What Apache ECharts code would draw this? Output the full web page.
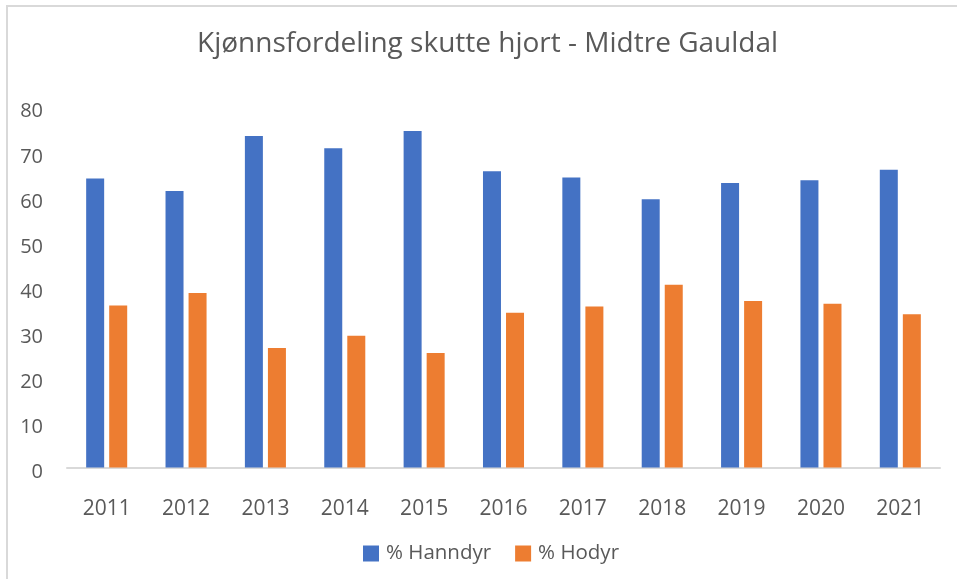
<!DOCTYPE html>
<html>
<head>
<meta charset="utf-8">
<script src="https://cdn.jsdelivr.net/npm/echarts@6/dist/echarts.min.js"></script>
<style>
  html, body { margin: 0; padding: 0; background: #fff; }
  #frame { position: absolute; left: 6px; top: 5px; width: 960px; height: 580px;
           border-top: 2px solid #d9d9d9; border-left: 2px solid #d9d9d9; }
  #chart { position: absolute; left: 0; top: 0; width: 957px; height: 579px; }
</style>
</head>
<body>
<div id="frame"></div>
<div id="chart"></div>
<script>
// data
var years = ['2011', '2012', '2013', '2014', '2015', '2016', '2017', '2018', '2019', '2020', '2021'];
var hanndyr = [64.1, 61.3, 73.5, 70.8, 74.6, 65.7, 64.3, 59.5, 63.1, 63.7, 66.0];
var hodyr = [35.9, 38.7, 26.5, 29.2, 25.4, 34.3, 35.7, 40.5, 36.9, 36.3, 34.0];
var seriesNames = ['% Hanndyr', '% Hodyr'];

var font = 'Open Sans';
var textColor = '#595959';

var chart = echarts.init(document.getElementById('chart'));

var option = {
    animation: false,
    title: {
        text: 'Kjønnsfordeling skutte hjort - Midtre Gauldal',
        left: 192,
        top: 25,
        textStyle: { fontFamily: font, fontSize: 28, fontWeight: 'normal', color: textColor }
    },
    legend: {
        data: seriesNames,
        left: 358,
        top: 538,
        itemWidth: 16,
        itemHeight: 16,
        itemGap: 24,
        icon: 'rect',
        textStyle: { fontFamily: font, fontSize: 20.5, color: textColor, padding: [0, 0, 0, 2] }
    },
    grid: { left: 67, right: 17, top: 106.7, bottom: 111.5 },
    xAxis: {
        type: 'category',
        data: years,
        axisLine: { lineStyle: { color: '#d9d9d9', width: 2 } },
        axisTick: { show: false },
        axisLabel: { fontFamily: font, fontSize: 21, color: textColor, margin: 31 }
    },
    yAxis: {
        type: 'value',
        min: 0,
        max: 80,
        interval: 10,
        splitLine: { show: false },
        axisLine: { show: false },
        axisTick: { show: false },
        axisLabel: { fontFamily: font, fontSize: 20, color: textColor, margin: 24,
                     verticalAlign: 'top', lineHeight: 10 }
    },
    series: [
        { name: seriesNames[0], type: 'bar', data: hanndyr, barWidth: 18, barGap: '28%',
          itemStyle: { color: '#4472C4' } },
        { name: seriesNames[1], type: 'bar', data: hodyr, barWidth: 18, barGap: '28%',
          itemStyle: { color: '#ED7D31' } }
    ]
};

chart.setOption(option);
</script>
</body>
</html>
